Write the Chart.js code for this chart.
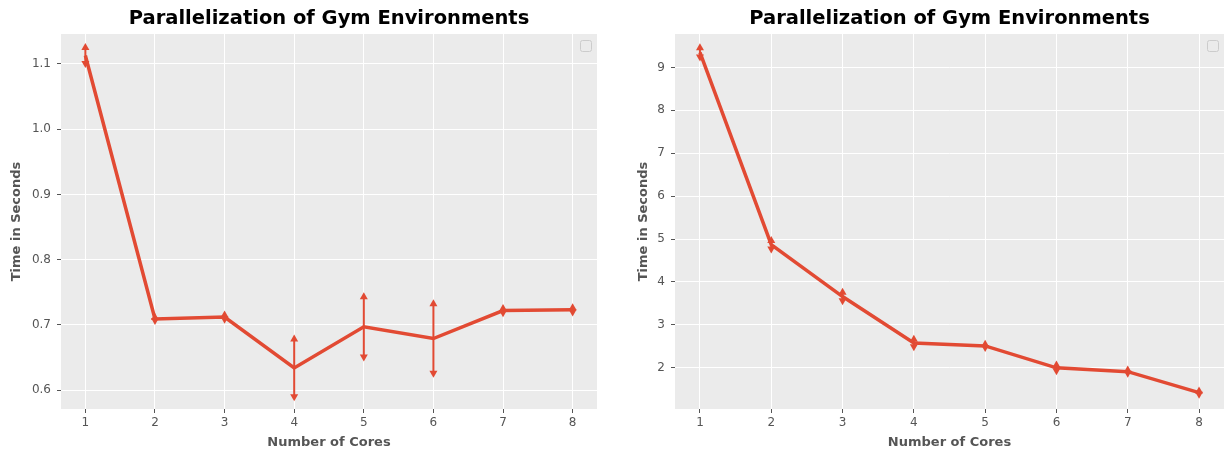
<!doctype html>
<html>
<head>
<title>Parallelization of Gym Environments</title>
<script src="https://cdn.jsdelivr.net/npm/chart.js@4.4.1/dist/chart.umd.min.js"></script>
<style>
body { margin: 0; background: #fff; }
.container { display: flex; flex-direction: row; width: 1226px; height: 452px; }
canvas { display: block; }
</style>
</head>
<body>
<div class="container">
	<canvas id="left" width="613" height="452"></canvas>
	<canvas id="right" width="613" height="452"></canvas>
</div>
<script>
var cores = [1, 2, 3, 4, 5, 6, 7, 8];
var leftMean = [1.113, 0.709, 0.712, 0.634, 0.697, 0.679, 0.722, 0.723];
var leftErr = [0.013, 0.003, 0.004, 0.045, 0.047, 0.054, 0.004, 0.004];
var rightMean = [9.35, 4.87, 3.66, 2.58, 2.51, 2.00, 1.91, 1.42];
var rightErr = [0.12, 0.11, 0.11, 0.10, 0.05, 0.08, 0.05, 0.05];
var leftTicks = [0.6, 0.7, 0.8, 0.9, 1.0, 1.1];
var rightTicks = [2, 3, 4, 5, 6, 7, 8, 9];
var xTicks = [1, 2, 3, 4, 5, 6, 7, 8];

var RED = '#E24A33';
var GREY = '#555555';
var FONT = 'DejaVu Sans';

// draws the plot background, the error bars, the empty legend box and the title
var gymPlugin = {
	id: 'gym',
	beforeDraw: function(chart) {
		var a = chart.chartArea, ctx = chart.ctx;
		ctx.save();
		ctx.fillStyle = '#EBEBEB';
		ctx.fillRect(a.left, a.top, a.right - a.left, a.bottom - a.top);
		ctx.restore();
	},
	afterDatasetsDraw: function(chart) {
		var ctx = chart.ctx, xs = chart.scales.x, ys = chart.scales.y;
		var o = chart.options.plugins.gym;
		ctx.save();
		ctx.strokeStyle = RED;
		ctx.fillStyle = RED;
		ctx.lineWidth = 2;
		cores.forEach(function(c, i) {
			var x = xs.getPixelForValue(c);
			var yt = ys.getPixelForValue(o.mean[i] + o.err[i]);
			var yb = ys.getPixelForValue(o.mean[i] - o.err[i]);
			ctx.beginPath();
			ctx.moveTo(x, yt);
			ctx.lineTo(x, yb);
			ctx.stroke();
			ctx.beginPath();
			ctx.moveTo(x, yt - 4);
			ctx.lineTo(x + 4, yt + 3);
			ctx.lineTo(x - 4, yt + 3);
			ctx.closePath();
			ctx.fill();
			ctx.beginPath();
			ctx.moveTo(x, yb + 4);
			ctx.lineTo(x + 4, yb - 3);
			ctx.lineTo(x - 4, yb - 3);
			ctx.closePath();
			ctx.fill();
		});
		ctx.restore();
	},
	afterDraw: function(chart) {
		var a = chart.chartArea, ctx = chart.ctx;
		ctx.save();
		ctx.fillStyle = 'rgba(235,235,235,0.8)';
		ctx.strokeStyle = '#cccccc';
		ctx.lineWidth = 1;
		ctx.beginPath();
		ctx.roundRect(a.right - 16.5, a.top + 6.5, 11, 11, 2);
		ctx.fill();
		ctx.stroke();
		ctx.fillStyle = '#000';
		ctx.font = 'bold 19.5px "' + FONT + '"';
		ctx.textAlign = 'center';
		ctx.textBaseline = 'middle';
		ctx.fillText(chart.options.plugins.gym.title, (a.left + a.right) / 2, 19);
		ctx.restore();
	}
};

function makeChart(id, mean, err, yMin, yMax, yTicks, digits, yWidth, padRight, titlePad) {
	var ctx = document.getElementById(id).getContext('2d');
	return new Chart(ctx, {
		type: 'line',
		data: {
			datasets: [{
				data: cores.map(function(c, i) { return { x: c, y: mean[i] }; }),
				borderColor: RED,
				borderWidth: 3.5,
				pointRadius: 0,
				fill: false,
				tension: 0
			}]
		},
		plugins: [gymPlugin],
		options: {
			responsive: false,
			animation: false,
			layout: { padding: { top: 34, right: padRight, left: 0, bottom: 0 } },
			plugins: {
				legend: { display: false },
				tooltip: { enabled: false },
				gym: { mean: mean, err: err, title: 'Parallelization of Gym Environments' }
			},
			scales: {
				x: {
					type: 'linear',
					min: 0.65,
					max: 8.35,
					afterBuildTicks: function(s) { s.ticks = xTicks.map(function(v) { return { value: v }; }); },
					afterFit: function(s) { s.height = 43; },
					border: { display: false },
					grid: { color: '#ffffff', lineWidth: 1, tickColor: GREY, tickLength: 4 },
					ticks: { color: GREY, font: { family: FONT, size: 12 }, padding: 3, maxRotation: 0 },
					title: { display: true, text: 'Number of Cores', color: GREY, font: { family: FONT, size: 13, weight: 'bold' }, padding: 2 }
				},
				y: {
					type: 'linear',
					min: yMin,
					max: yMax,
					afterBuildTicks: function(s) { s.ticks = yTicks.map(function(v) { return { value: v }; }); },
					afterFit: function(s) { s.width = yWidth; },
					border: { display: false },
					grid: { color: '#ffffff', lineWidth: 1, tickColor: GREY, tickLength: 4 },
					ticks: {
						color: GREY,
						font: { family: FONT, size: 12 },
						padding: 6,
						callback: function(v) { return Number(v).toFixed(digits); }
					},
					title: { display: true, text: 'Time in Seconds', color: GREY, font: { family: FONT, size: 13, weight: 'bold' }, padding: titlePad }
				}
			}
		}
	});
}

makeChart('left', leftMean, leftErr, 0.571, 1.146, leftTicks, 1, 61, 16, 9);
makeChart('right', rightMean, rightErr, 1.04, 9.78, rightTicks, 0, 62, 2, 23);
</script>
</body>
</html>
